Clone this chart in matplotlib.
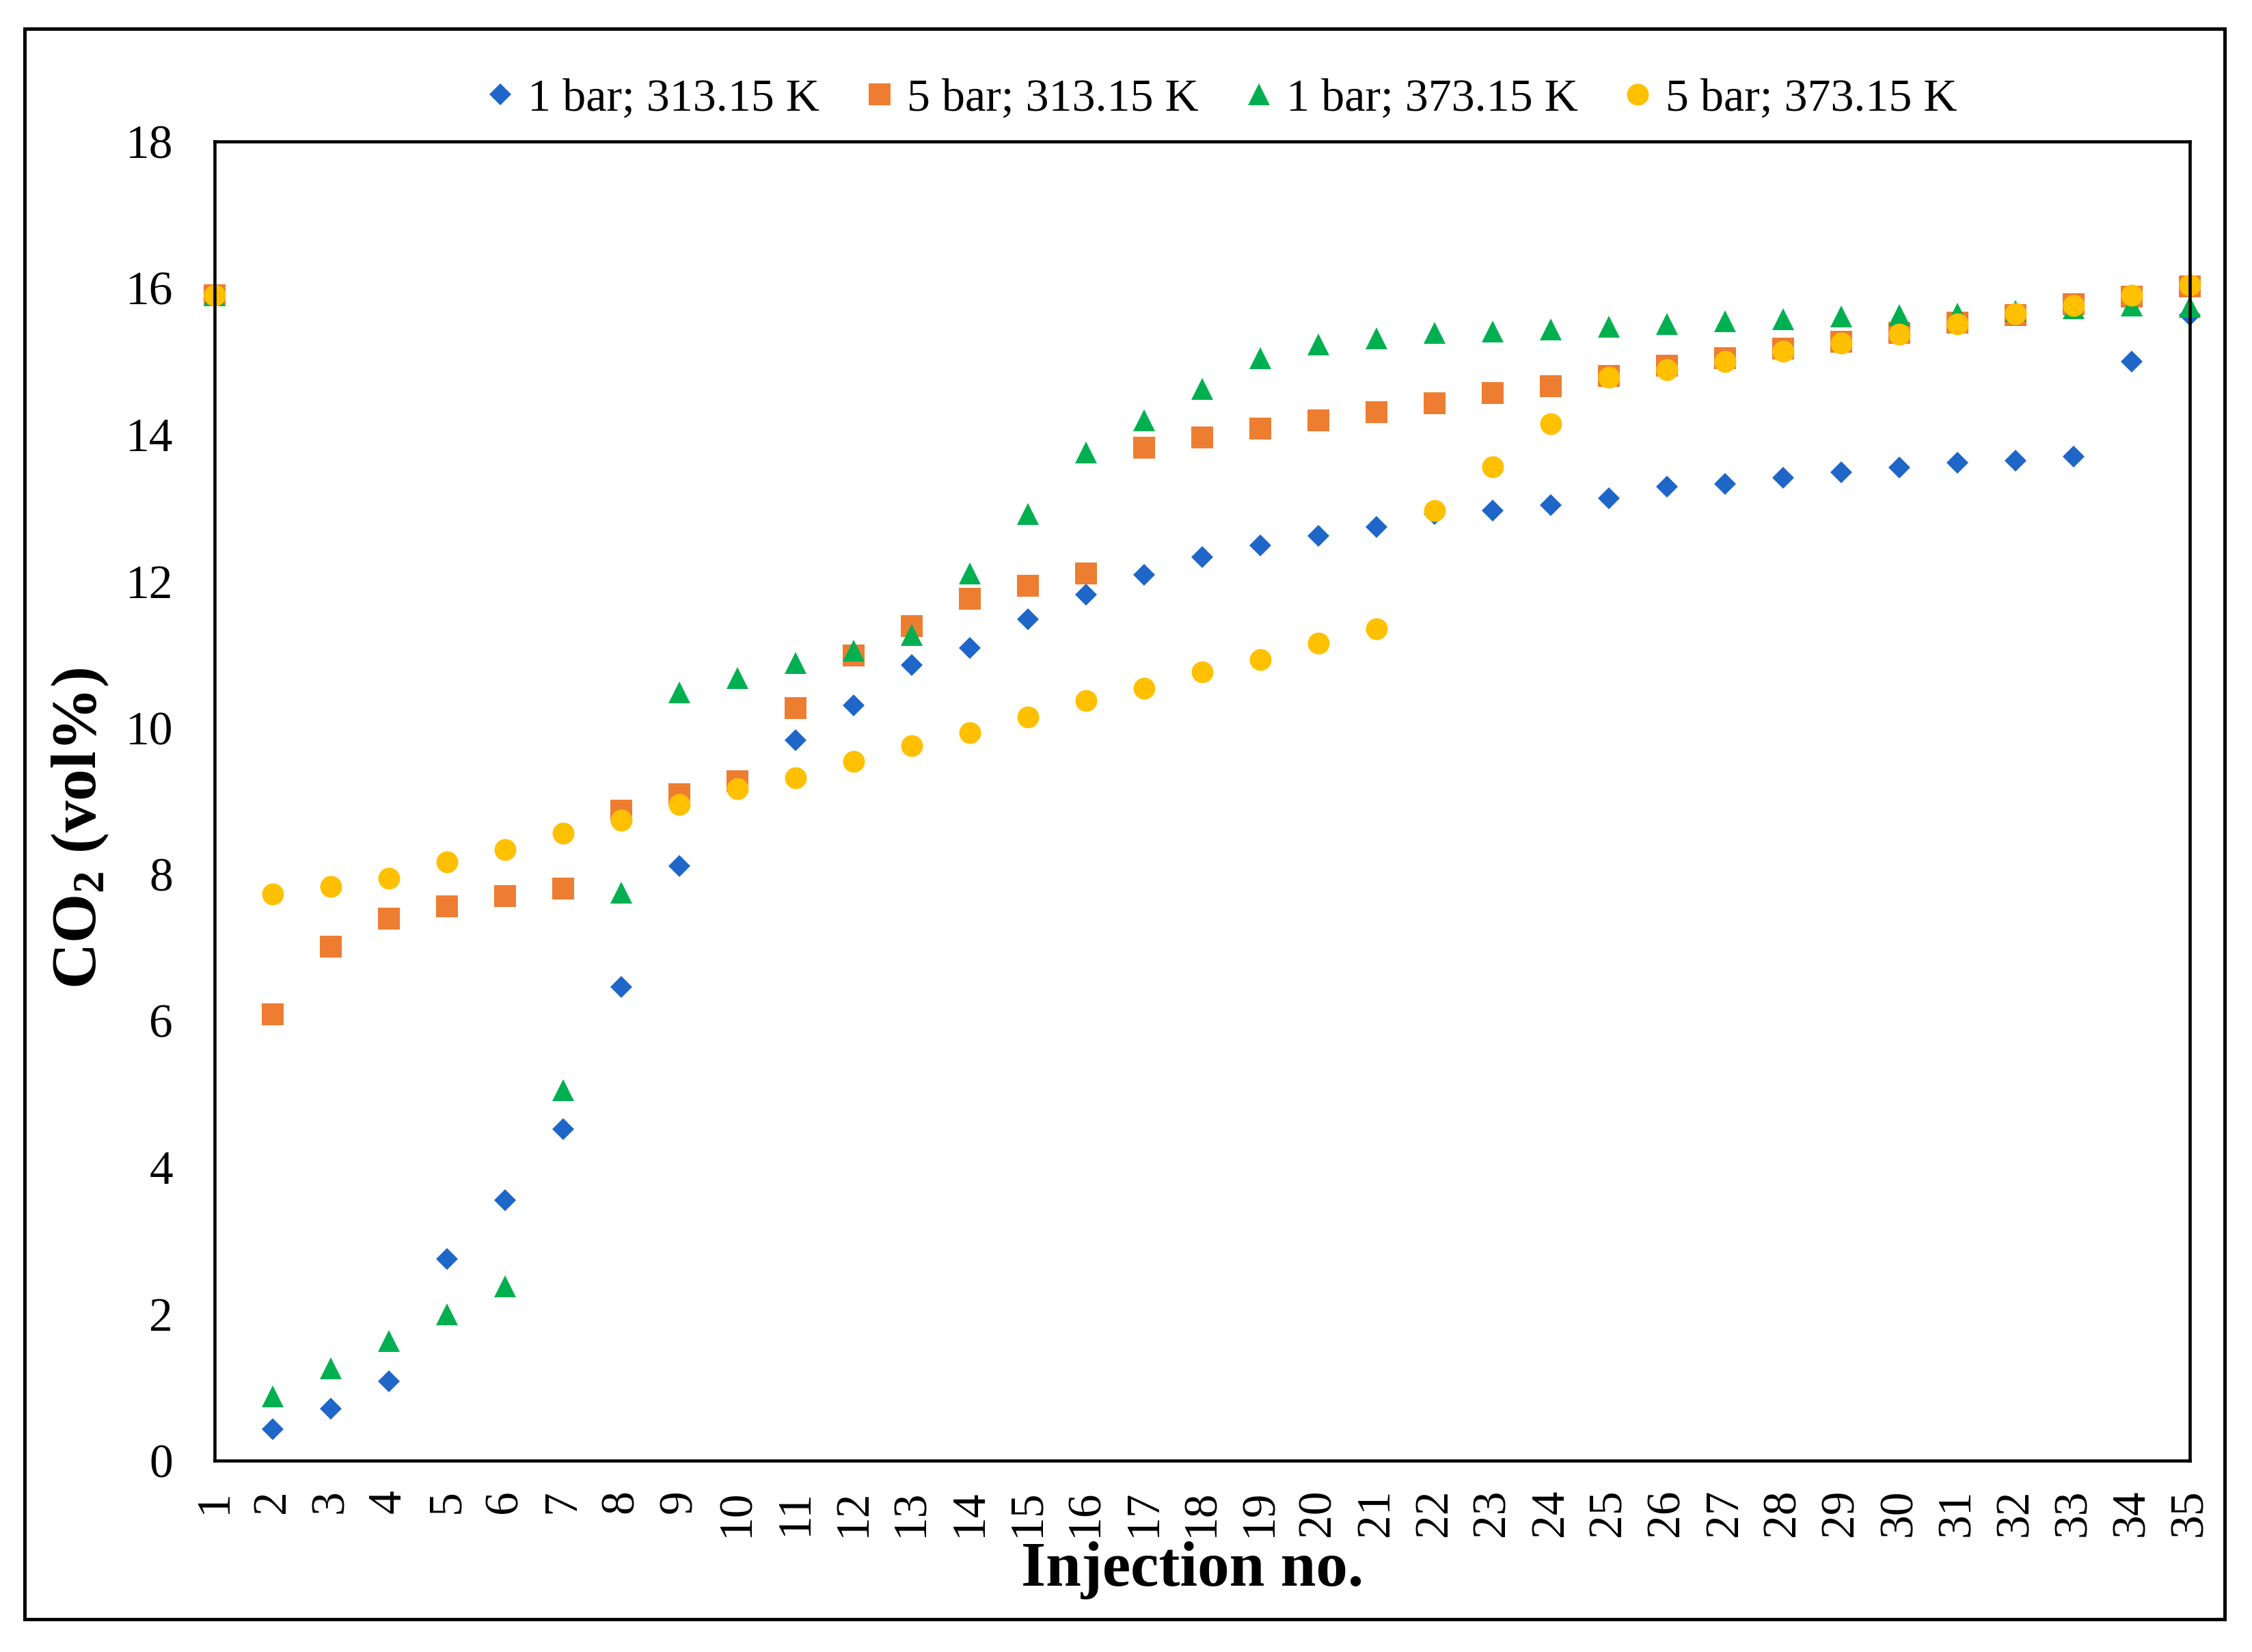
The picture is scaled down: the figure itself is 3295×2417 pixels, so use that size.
import matplotlib
matplotlib.use('Agg')
import matplotlib.pyplot as plt
from matplotlib.patches import Rectangle

# injection number and CO2 vol% for each test
injection = list(range(1, 36))

co2_1bar_313 = [15.9, 0.43, 0.71, 1.08, 2.75, 3.55, 4.52, 6.46, 8.11, 9.2,
                9.83, 10.31, 10.86, 11.09, 11.48, 11.82, 12.09, 12.33, 12.49, 12.62,
                12.74, 12.92, 12.96, 13.04, 13.13, 13.29, 13.33, 13.41, 13.49, 13.55,
                13.62, 13.64, 13.70, 15.0, 15.63]
co2_5bar_313 = [15.9, 6.09, 7.01, 7.40, 7.56, 7.70, 7.81, 8.87, 9.09, 9.27,
                10.27, 10.99, 11.39, 11.76, 11.94, 12.11, 13.82, 13.96, 14.08, 14.19,
                14.31, 14.43, 14.57, 14.66, 14.80, 14.94, 15.04, 15.17, 15.27, 15.39,
                15.53, 15.63, 15.78, 15.88, 16.02]
co2_1bar_373 = [15.9, 0.88, 1.26, 1.63, 2.0, 2.38, 5.06, 7.75, 10.48, 10.68,
                10.88, 11.05, 11.27, 12.11, 12.92, 13.76, 14.19, 14.62, 15.04, 15.23,
                15.31, 15.39, 15.41, 15.43, 15.47, 15.51, 15.55, 15.57, 15.61, 15.63,
                15.65, 15.69, 15.72, 15.76, 15.74]
co2_5bar_373 = [15.9, 7.73, 7.83, 7.95, 8.17, 8.34, 8.56, 8.74, 8.95, 9.17,
                9.32, 9.54, 9.76, 9.93, 10.15, 10.37, 10.54, 10.76, 10.93, 11.15,
                11.35, 12.96, 13.56, 14.15, 14.78, 14.88, 15.0, 15.14, 15.25, 15.37,
                15.51, 15.65, 15.76, 15.9, 16.04]

labels = ['1 bar; 313.15 K', '5 bar; 313.15 K', '1 bar; 373.15 K', '5 bar; 373.15 K']

plt.rcParams['font.family'] = ['Liberation Serif', 'DejaVu Serif']
plt.rcParams['mathtext.default'] = 'regular'

fig = plt.figure(figsize=(32.95, 24.17), dpi=100)
ax = fig.add_axes([0.0953, 0.1158, 0.9724 - 0.0953, 0.9144 - 0.1158])

ax.plot(injection, co2_1bar_313, 'D', color='#1E66C8', markersize=16.5,
        markeredgewidth=0, label=labels[0], clip_on=False)
ax.plot(injection, co2_5bar_313, 's', color='#ED7D31', markersize=23,
        markeredgewidth=0, label=labels[1], clip_on=False)
ax.plot(injection, co2_1bar_373, '^', color='#00B050', markersize=23,
        markeredgewidth=0, label=labels[2], clip_on=False)
ax.plot(injection, co2_5bar_373, 'o', color='#FFC000', markersize=23,
        markeredgewidth=0, label=labels[3], clip_on=False)

ax.set_xlim(1, 35)
ax.set_ylim(0, 18)
ax.set_xticks(injection)
ax.set_xticklabels([str(i) for i in injection], rotation=90)
ax.set_yticks(range(0, 19, 2))
ax.tick_params(axis='x', length=0, pad=30, labelsize=50)
ax.tick_params(axis='y', length=0, pad=44, labelsize=50)
for sp in ax.spines.values():
    sp.set_linewidth(3.3)

ax.set_xlabel('Injection no.', fontsize=67, fontweight='bold')
ax.xaxis.set_label_coords(0.495, -0.061)
ax.set_ylabel('CO$_2$ (vol%)', fontsize=67, fontweight='bold')
ax.yaxis.set_label_coords(-0.0526, 0.479)

fig.legend(loc='center', bbox_to_anchor=(0.543, 0.94), ncol=4, frameon=False,
           fontsize=49, handlelength=0.5, handletextpad=0.34, columnspacing=1.04,
           markerscale=1.0)

# outer frame around the whole chart
fig.patches.append(Rectangle((0.0109, 0.0199), 0.9879 - 0.0109, 0.9826 - 0.0199,
                             transform=fig.transFigure, fill=False,
                             edgecolor='black', linewidth=3.6))

fig.savefig('out.png', dpi=100)
